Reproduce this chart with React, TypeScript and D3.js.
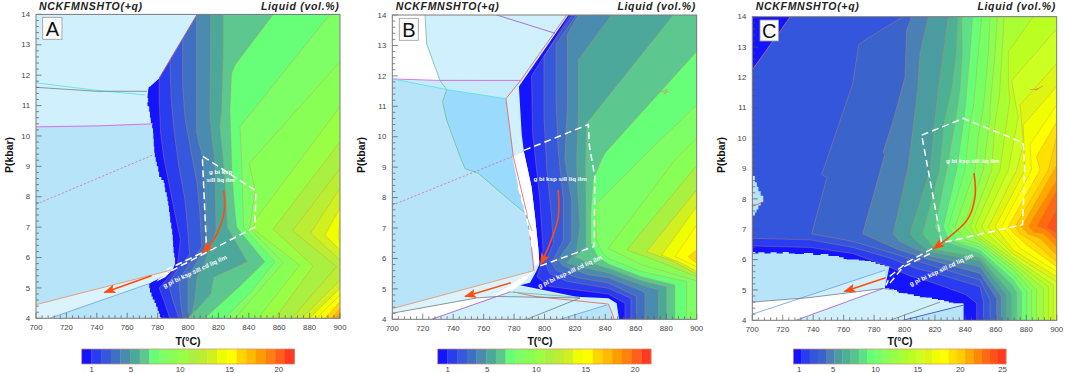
import React from "react";
import * as d3 from "d3";

type Pt = [number, number];
type Contour = [number, Pt[]];
type Region = [string, Pt[]];
type Path = [string, Pt[]];

const tempTicks = [700, 720, 740, 760, 780, 800, 820, 840, 860, 880, 900];
const pressTicks = [4, 5, 6, 7, 8, 9, 10, 11, 12, 13, 14];
const titleLeft = "NCKFMNSHTO(+q)";
const titleRight = "Liquid (vol.%)";

const palette22 = ["#1414ff", "#2a3cf0", "#3558dd", "#3f70c4", "#4a8cb0", "#4da89c", "#5cc890", "#66ff77", "#7fff66", "#88ff55", "#99ff44", "#aaf040", "#bbee33", "#d0f020", "#eeff00", "#ffff00", "#ffd500", "#ffbb00", "#ff9d00", "#ff7f10", "#ff5f18", "#ff3a20"];
const palette26 = ["#1414ff", "#2a3cf0", "#3356dd", "#3a64cc", "#4a80b5", "#4a9ca0", "#4db094", "#55c58c", "#5ee08a", "#66ff77", "#77ff66", "#88ff55", "#99ff44", "#aaff33", "#bbff22", "#ccff22", "#ddf510", "#f0ff00", "#ffff00", "#ffe000", "#ffcc00", "#ffa800", "#ff8800", "#ff6a10", "#ff5218", "#ff3a20"];
const barTicksAB = [1, 5, 10, 15, 20];
const barTicksC = [1, 5, 10, 15, 20, 25];

const contoursA: Contour[] = [
  [1, [[806, 14], [781, 11.9], [781, 11.2], [782, 10.1], [784, 9.3], [788, 8.3], [792, 7.3], [795, 6.6], [793, 5.7], [781, 5], [784, 4.6], [788, 4]]],
  [2, [[806, 14], [788, 12.55], [789, 11.2], [791, 10.1], [794, 9], [798, 7.9], [800, 6.8], [801, 6.1], [793, 5.6], [787, 5.15], [790, 4.6], [794, 4]]],
  [3, [[806, 14], [796.5, 13.2], [796.5, 11.7], [798, 10.6], [802, 9.5], [806, 8.45], [808, 7.35], [809, 6.35], [801, 5.8], [794, 5.25], [795, 4.6], [796.5, 4]]],
  [4, [[805.7, 14], [805.7, 10.1], [810, 9.2], [811, 8], [812, 6.9], [811, 6.3], [800, 5.35], [800, 4]]],
  [5, [[814.9, 14], [814.5, 10.63], [815.6, 9.97], [817.7, 9.2], [818, 8], [818.5, 6.9], [810, 5.7], [806, 5.35], [804.5, 4.6], [802, 4]]],
  [6, [[823.2, 14], [823.2, 12.71], [822.1, 10.85], [821, 10.3], [823.2, 9.2], [825, 8], [826, 7], [839, 5.86], [817, 5.35], [815, 4.8], [806, 4.3], [800, 4]]],
  [7, [[856.1, 14], [830.9, 12.33], [828.7, 12.06], [827.6, 10.85], [828.7, 9.2], [830, 8], [832, 7], [850.6, 5.86], [834, 5.05], [811, 4]]],
  [8, [[893.4, 14], [834.2, 10.3], [835.3, 9.2], [836, 8], [836.5, 7], [857.2, 5.86], [842, 4.9], [824.3, 4]]],
  [9, [[900, 12.44], [840.3, 9.1], [844, 8.22], [841.8, 7.34], [840.5, 6.95], [862.7, 5.83], [830.9, 4]]],
  [10, [[900, 10.96], [844.5, 7.25], [842.9, 6.93], [873.6, 5.75], [846.2, 4]]],
  [11, [[900, 9.81], [856, 6.93], [882.4, 5.72], [857.2, 4]]],
  [12, [[900, 8.93], [868.8, 6.88], [897.8, 5.7], [868.2, 4]]],
  [13, [[900, 8.28], [880.6, 6.8], [900, 5.92]]],
  [13, [[900, 5.26], [874.7, 4]]],
  [14, [[900, 7.62], [890, 6.74], [900, 6.25]]],
  [14, [[900, 4.99], [879.8, 4]]],
  [15, [[900, 7.18], [898.9, 6.69], [900, 6.5]]],
  [15, [[900, 4.77], [884.6, 4]]],
  [16, [[900, 4.55], [890, 4]]],
  [17, [[900, 4.33], [894.5, 4]]],
  [18, [[900, 4.18], [896.7, 4]]],
  [19, [[900, 4.08], [898.9, 4]]],
];

const contoursB: Contour[] = [
  [1, [[816.8, 14], [791.5, 12], [792.2, 10.1], [797, 7.9], [799, 6.3], [797.5, 5.75], [795, 5.4], [803, 5.08], [841.9, 4.83], [852.9, 4.53], [852.9, 4]]],
  [2, [[818.5, 14], [799.7, 12.65], [799.7, 10.65], [801.4, 9], [804.7, 7.35], [805.8, 6.5], [800.3, 5.85], [803.6, 5.5], [814.6, 5.25], [841.9, 5.02], [856.8, 4.69], [856.8, 4]]],
  [3, [[821, 14], [807.6, 13.05], [807.6, 11.2], [809, 9.55], [812.4, 7.9], [812.4, 6.6], [804.7, 5.85], [808, 5.6], [823.3, 5.35], [841.9, 5.2], [860.5, 4.75], [860.5, 4]]],
  [4, [[822.2, 14], [815, 13.35], [815, 10.88], [813.4, 9.24], [817.9, 7.9], [817.9, 6.6], [809, 5.95], [812.4, 5.75], [830, 5.45], [841.9, 5.37], [863.8, 4.94], [866, 4.86], [866, 4]]],
  [5, [[844.1, 14], [822.2, 12.52], [822.2, 10.66], [821.1, 9.24], [821.6, 8.45], [823.3, 7.05], [821, 6.2], [814.6, 5.85], [826, 5.7], [841.9, 5.53], [863.8, 5.13], [874.8, 4.96], [874.8, 4]]],
  [6, [[884.6, 14], [827.7, 10.44], [827, 9.24], [827.3, 7.35], [827.3, 6.4], [820, 6.05], [830, 5.85], [841.9, 5.68], [863.8, 5.27], [880.2, 5.07], [880.2, 4]]],
  [7, [[900, 12.8], [839.7, 9.46], [837.5, 9.24], [832, 8.6], [830.5, 7.5], [830.5, 6.5], [835, 6.05], [841.9, 5.82], [863.8, 5.4], [885.7, 5.13], [885.7, 4]]],
  [8, [[900, 11.04], [864.9, 9.35], [833.6, 7.76], [834, 6.6], [838, 6.2], [841.9, 6], [863.8, 5.57], [893.4, 5.24], [893.4, 4]]],
  [9, [[900, 9.95], [885.7, 9.24], [841.9, 6.33], [863.8, 5.79], [900, 5.27]]],
  [11, [[900, 9.05], [854, 6.28], [875, 5.9], [900, 5.4]]],
  [13, [[900, 8.25], [867, 6.22], [885, 5.9], [900, 5.49]]],
  [14, [[900, 7.7], [877, 6.11], [890, 5.85], [900, 5.57]]],
  [15, [[900, 7.1], [885.7, 6.06], [893, 5.9], [900, 5.73]]],
  [16, [[900, 6.28], [894.5, 6.06], [900, 5.84]]],
];

const contoursC: Contour[] = [
  [1, [[725, 14], [700, 12.25], [700, 6.45], [738, 6.4], [766, 6.2], [788, 5.8], [804, 5.45], [816.8, 5.27], [840, 4.85], [847.4, 4.56], [847.4, 4]]],
  [2, [[725, 14], [700, 12.25], [700, 6.7], [738, 6.65], [766, 6.4], [790.5, 6.05], [808, 5.7], [816.8, 5.6], [849.6, 5.11], [851.8, 4.61], [851.8, 4]]],
  [3, [[799.2, 14], [783.9, 13.54], [770, 13.1], [766, 11.8], [745.6, 8.8], [749, 8.7], [739, 6.85], [766, 6.6], [792.7, 6.2], [816.8, 5.82], [849.6, 5.33], [856.2, 4.67], [856.2, 4]]],
  [4, [[804.7, 14], [801.4, 13.56], [800.3, 12], [792.7, 10.6], [786, 9.55], [787, 9.45], [772.5, 6.85], [795, 6.35], [816.8, 5.99], [849.6, 5.55], [860.6, 4.72], [860.6, 4]]],
  [5, [[815.7, 14], [810.2, 12.8], [808.7, 11.6], [805.8, 10.4], [802.5, 9.06], [792.7, 6.85], [797, 6.6], [816.8, 6.12], [849.6, 5.77], [863.8, 4.78], [863.8, 4]]],
  [6, [[828.8, 14], [825.5, 12.8], [822.2, 11.6], [820, 10.6], [816.8, 8.95], [803.6, 6.85], [808, 6.6], [816.8, 6.26], [849.6, 5.96], [867.1, 4.83], [867.1, 4]]],
  [7, [[835, 14], [834, 12.8], [831, 11.6], [826, 10.5], [823, 8.95], [812, 6.85], [816, 6.6], [820, 6.33], [849.6, 6.07], [870.4, 4.87], [870.4, 4]]],
  [8, [[837.6, 14], [838, 12.8], [836.5, 11.6], [833.2, 10.5], [827.7, 8.95], [820, 7.08], [825, 6.6], [849.6, 6.2], [871.5, 5.11], [873.7, 4.89], [873.7, 4]]],
  [9, [[844.8, 14], [843, 12.8], [840.4, 11.25], [838.7, 10.5], [834.3, 8.95], [825.5, 7.08], [829, 6.65], [849.6, 6.31], [871.5, 5.33], [877, 4.91], [877, 4]]],
  [10, [[850.7, 14], [848.5, 12.8], [845.2, 11], [843, 10.5], [839.7, 8.95], [828.8, 7.08], [835, 6.6], [849.6, 6.42], [871.5, 5.49], [880.3, 4.94], [880.3, 4]]],
  [11, [[856.2, 14], [855.1, 12.8], [851.8, 11], [848.5, 10.05], [846.3, 8.95], [833.2, 7.08], [840, 6.65], [849.6, 6.51], [871.5, 5.66], [883.5, 4.98], [883.5, 4]]],
  [12, [[861, 14], [859.5, 12.8], [856.2, 11], [856.2, 10.7], [851.8, 8.95], [838.7, 7.08], [846, 6.72], [849.6, 6.6], [871.5, 5.77], [886.8, 5], [886.8, 4]]],
  [13, [[865.4, 14], [864.5, 13.1], [862.3, 11.35], [859.5, 10.5], [857.3, 8.95], [843, 7.08], [846, 6.82], [849.6, 6.69], [871.5, 5.88], [891.2, 5.05], [891.2, 4]]],
  [14, [[884.6, 14], [868.2, 12.85], [868.2, 11.8], [869.3, 11.3], [862.7, 8.95], [846.3, 7.08], [849.6, 6.78], [871.5, 5.99], [894.5, 5.11], [894.5, 4]]],
  [15, [[900, 13.6], [870.4, 11.9], [872.6, 11.25], [874.8, 10.7], [868.2, 8.95], [850.7, 7.08], [854, 6.85], [871.5, 6.07], [897.8, 5.16], [897.8, 4]]],
  [16, [[900, 12.46], [876, 11.1], [878.1, 9.8], [873.7, 8.95], [855.1, 7.08], [858, 6.85], [871.5, 6.18], [900, 5.27]]],
  [17, [[900, 11.7], [878, 10.43], [879.2, 8.95], [859.5, 7.08], [863, 6.85], [871.5, 6.31], [900, 5.44]]],
  [18, [[900, 11.1], [882.5, 9.8], [883.5, 8.95], [863.8, 7.08], [868, 6.85], [875.9, 6.37], [900, 5.6]]],
  [19, [[900, 10.54], [886.8, 9.4], [889, 8.95], [868.2, 7.08], [872, 6.85], [880.3, 6.48], [900, 5.77]]],
  [20, [[900, 10.05], [894.5, 8.95], [872.6, 7.08], [876, 6.85], [884.6, 6.59], [900, 5.93]]],
  [21, [[900, 9.1], [877, 7.08], [881, 6.85], [889, 6.7], [900, 6.15]]],
  [22, [[900, 8.62], [881.4, 7.1], [885, 6.9], [891.2, 6.86], [900, 6.42]]],
  [23, [[900, 8.29], [886.8, 7.1], [893.4, 6.97], [900, 6.64]]],
  [24, [[900, 7.69], [893, 7.05], [900, 6.86]]],
];

const edgeA: Pt[] = [[775, 11.62], [774, 11.55], [773.5, 11.42], [773, 11.25], [773.8, 11.1], [773.2, 10.98], [774.5, 10.8], [775, 10.6], [775.5, 10.42], [776.4, 10.25], [777, 10.1], [777.2, 9.9], [777.5, 9.65], [777.8, 9.45], [778.2, 9.3], [778.8, 9.15], [779.5, 9], [780.4, 8.82], [781, 8.65], [782.5, 8.55], [784, 8.45], [784.6, 8.3], [785, 8.15], [786, 8], [786.5, 7.85], [787, 7.7], [787.5, 7.5], [788, 7.35], [788.3, 7.15], [789, 6.95], [789.6, 6.75], [790, 6.55], [790.2, 6.35], [790.5, 6.15], [791, 6], [791.5, 5.8]];
const edgeALow: Pt[] = [[774, 5.15], [774.5, 5], [775, 4.85], [776, 4.72], [776.8, 4.62], [778, 4.5], [779, 4.38], [780, 4.25], [780.8, 4.15], [781.5, 4.05]];
const edgeC1: Pt[] = [[700, 6.25], [702, 6.2], [704, 6.24], [708, 6.2], [712, 6.24], [716, 6.2], [720, 6.25], [724, 6.2], [728, 6.18], [734, 6.22], [740, 6.15], [745, 6.18], [750, 6.12], [754, 6.12], [757, 6.08], [760, 6.02], [762, 6], [766, 6], [770, 5.97], [774, 5.95], [778, 5.92], [781, 5.86], [784, 5.82], [787, 5.78], [790, 5.75]];
const edgeC2: Pt[] = [[787, 5.05], [790, 5.02], [793, 5], [795, 4.94], [796, 4.9], [799, 4.88], [802, 4.85], [806, 4.8], [810, 4.75], [814, 4.74], [818, 4.7], [822, 4.67], [826, 4.62], [829, 4.58], [832, 4.55], [835, 4.55], [838.7, 4.5]];
const notchC: Pt[] = [[700, 8.75], [701.7, 8.55], [703, 8.4], [704, 8.25], [705.5, 8.1], [707.2, 7.9], [705.5, 7.78], [704, 7.65], [702.8, 7.55], [701.7, 7.45], [700, 7.35]];
const blipsB: Pt[] = [[877, 11.47], [880.5, 11.55], [878.5, 11.42], [882, 11.5]];
const blipsC: Pt[] = [[882.5, 11.6], [888, 11.62], [886, 11.58], [891, 11.72]];

function stairs(pts: Pt[]): Pt[] {
  return pts.flatMap((p, i) => (i === 0 ? [p] : [[p[0], pts[i - 1][1]] as Pt, p]));
}

const regionsA: Region[] = [
  ["deep", [[700, 14], [806, 14], [781, 11.9], ...stairs(edgeA), [790, 5.6], [781, 5.3], ...stairs(edgeALow), [782.5, 4], [700, 4]]],
  ["pale", [[700, 14], [806, 14], [781, 11.9], [774, 11.6], [773, 11.1], [775.5, 10.42], [777, 10.4], [700, 10.3]]],
  ["mist", [[700, 4.45], [790, 5.6], [775, 5.15], [709, 4], [700, 4]]],
  ["white", [[790, 5.6], [781, 5.3], [779, 5.2], [785, 5.35]]],
];
const pathsA: Path[] = [
  ["cyan", [[700, 11.75], [740, 11.5], [772, 11.35]]],
  ["grey", [[700, 11.6], [740, 11.47], [773, 11.47]]],
  ["magenta", [[700, 10.3], [740, 10.33], [777, 10.4]]],
  ["pinkDash", [[700, 7.75], [778, 9.4]]],
  ["orange", [[700, 4.45], [790, 5.6]]],
  ["skyblue", [[709, 4], [775, 5.15]]],
  ["purpleEdge", [[806, 14], [781, 11.9]]],
];
const fieldA: Pt[][] = [
  [[812, 6.47], [809.4, 9.34], [844.7, 8.2], [844, 7], [781.6, 5.37]],
  [[809, 6.15], [786, 5.6]],
];
const arrowsA: Pt[][] = [
  [[823.5, 8.2], [824, 7.6], [821, 7], [817, 6.6], [809.5, 6.15]],
  [[776, 5.4], [745, 4.85]],
];
const labelsA: [string, number, number, number][] = [
  ["g bi ksp", 821.5, 8.8, 0],
  ["sill liq ilm", 821.5, 8.55, 0],
  ["g pl bi ksp sill cd liq ilm", 804.6, 5.53, -25],
];

const regionsB: Region[] = [
  ["pale", [[700, 14], [815.7, 14], [783.2, 11.65], [785, 10.1], [786.5, 9.5], [791.5, 8.35], [793.8, 7.35], [796, 6.3], [796.6, 5.8], [794.9, 5.6], [790.5, 5.2], [784, 5.12], [821, 4.74], [842, 4.69], [847.4, 4.53], [849, 4], [700, 4]]],
  ["deep", [[700, 11.9], [784.3, 11.85], [774.7, 11.25], [779.5, 9.35], [788.3, 7.5], [791.6, 6.3], [793, 5.6], [700, 4.35]]],
  ["soft", [[700, 11.9], [784.3, 11.85], [774.7, 11.25], [735.7, 11.55]]],
  ["white", [[700, 14], [721.5, 14], [722.6, 13.05], [731.3, 11.85], [700, 11.9]]],
  ["strong", [[735.7, 11.55], [774.7, 11.25], [779.5, 9.35], [788.3, 7.5], [787.2, 7.5], [775, 8], [756.5, 8.8], [747.8, 8.95], [744.5, 9.35], [735.7, 10.55], [733, 11.15]]],
  ["white", [[778.9, 9.35], [786.5, 9.5], [791.5, 8.35], [793.8, 7.35], [796, 6.3], [796.6, 5.85], [793.8, 5.75], [792.2, 6.3], [788.3, 7.35], [782.8, 8.35]]],
  ["mist", [[700, 4.35], [793, 5.6], [785, 5.2], [777.3, 4.9], [766.4, 4.72], [755.4, 4.7], [700, 4.2]]],
  ["white", [[793, 5.6], [788, 5.3], [777.3, 4.9], [766.4, 4.72], [772, 4.95]]],
  ["white", [[700, 4.2], [755.4, 4.7], [766.4, 4.72], [725.8, 4], [700, 4]]],
  ["soft", [[777.3, 4.9], [784, 5.05], [821, 4.72], [842, 4.5], [823.3, 4.7], [768.6, 4.75]]],
  ["deep", [[810.2, 4], [840.9, 4.47], [842, 4.5], [845.2, 4]]],
];
const pathsB: Path[] = [
  ["red", [[814.6, 14], [784.3, 11.85], [774.7, 11.25], [779.5, 9.35], [788.3, 7.5], [791.6, 6.3], [793, 5.6]]],
  ["red", [[779.5, 4.9], [793.8, 4.75], [842, 4.5], [845.2, 4.1], [845.7, 4]]],
  ["green", [[721.5, 14], [722.6, 13.05], [731.3, 11.85], [735.7, 11.55], [733, 11.15], [735.7, 10.55], [744.5, 9.35], [747.8, 8.95], [756.5, 8.8], [775, 8], [787.2, 7.5], [792, 6.9]]],
  ["green", [[776.9, 4.9], [823, 4.72]]],
  ["magenta", [[700, 11.9], [731, 11.85], [784.3, 11.85]]],
  ["cyan", [[700, 11.9], [735.7, 11.55], [774.7, 11.25]]],
  ["purple", [[768.6, 14], [806.9, 13.4]]],
  ["pinkDash", [[700, 7.75], [778.9, 9.35]]],
  ["orange", [[700, 4.35], [793, 5.6]]],
  ["grey", [[700, 4.2], [755.4, 4.7], [768.6, 4.75], [823.3, 4.7]]],
  ["purple", [[725.8, 4], [777.3, 4.9]]],
  ["grey", [[788.3, 4], [823.3, 4.7]]],
  ["skyblue", [[810.2, 4], [840.9, 4.47]]],
  ["tan", blipsB],
];
const fieldB: Pt[][] = [
  [[786.5, 9.55], [828.8, 10.4], [829.5, 9.7], [833, 8.7], [832.7, 6.4], [797, 5.75]],
  [[782.8, 8.35], [788.3, 7.35], [792.2, 6.3]],
];
const arrowsB: Pt[][] = [
  [[809, 8.25], [809, 7.35], [803.6, 6.5], [797.5, 5.8]],
  [[777.8, 5.2], [747.8, 4.75]],
];
const labelsB: [string, number, number, number][] = [
  ["g bi ksp sill liq ilm", 810.2, 8.6, 0],
  ["g pl bi ksp sill cd liq ilm", 816.8, 5.55, -25],
];

const regionsC: Region[] = [
  ["deep", [...stairs(edgeC1), [787.2, 5.1], ...stairs(edgeC2), [838.7, 4], [700, 4]]],
  ["pale", [[700, 4.2], [787.2, 5.65], [787.2, 5.05], [728.7, 4], [700, 4]]],
  ["white", [[700, 4.6], [737.9, 4.75], [786, 5.05], [728.7, 4], [700, 4]]],
  ["pale", [[728.7, 4], [786, 5.05], ...stairs(edgeC2), [799, 4]]],
  ["deep", [[799, 4], [838.7, 4.5], [838.7, 4]]],
  ["deep", stairs(notchC)],
];
const pathsC: Path[] = [
  ["skyblue", [[700, 4.2], [787.2, 5.65]]],
  ["grey", [[700, 4.6], [737.9, 4.75], [786, 5.05], [792.7, 5]]],
  ["purple", [[728.7, 4], [786, 5.05]]],
  ["grey", [[790.5, 4], [823.3, 4.6]]],
  ["navy", [[799, 4], [838.7, 4.5]]],
  ["red", [[700, 7.75], [707.2, 7.9]]],
  ["tan", blipsC],
];
const fieldC: Pt[][] = [
  [[811.3, 10.1], [838.7, 10.65], [878, 9.85], [879, 9.05], [877.6, 7.15], [824.4, 6.55], [811.3, 10.1]],
  [[824.4, 6.55], [817.9, 6.35], [801.4, 5.9], [790.5, 5.45], [787.8, 5.15]],
  [[816.8, 6.2], [799, 5.75], [790, 5.2]],
];
const arrowsC: Pt[][] = [
  [[845.7, 8.85], [846.3, 8.05], [841.1, 7.3], [818.9, 6.35]],
  [[787.6, 5.4], [760.5, 4.95]],
];
const labelsC: [string, number, number, number][] = [
  ["g bi ksp sill liq ilm", 844.8, 9.22, 0],
  ["g pl bi ksp sill cd liq ilm", 824.4, 5.65, -25],
];

const ZONE_FILL: Record<string, string> = { deep: "#b8e4fa", pale: "#d0f0fd", soft: "#c6ebfb", mist: "#dbf3fd", strong: "#9adafc", white: "#ffffff" };
const LINE_STYLE: Record<string, { stroke: string; dash?: string }> = {
  cyan: { stroke: "#4fe3ee" },
  grey: { stroke: "#6f7f80" },
  magenta: { stroke: "#e050e0" },
  pinkDash: { stroke: "#d86a90", dash: "2 2" },
  orange: { stroke: "#ea8f62" },
  skyblue: { stroke: "#6aa0e0" },
  purpleEdge: { stroke: "#8a3aa0" },
  red: { stroke: "#e85a55" },
  green: { stroke: "#70bf96" },
  purple: { stroke: "#a055c8" },
  navy: { stroke: "#3040c0" },
  tan: { stroke: "#c8985a" },
};

const panels = [
  { id: "A", left: 36, right: 340, top: 14.4, bottom: 318.3, contours: contoursA, regions: regionsA, paths: pathsA, field: fieldA, arrows: arrowsA, labels: labelsA, palette: palette22, barTicks: barTicksAB, barDomain: [0, 21.6], barL: 81.7, barR: 294.5, box: [42.7, 17.3, 19.3, 22], titleL: 39, titleR: 339.5, xLab: 188, pX: 10 },
  { id: "B", left: 392.3, right: 696.7, top: 15, bottom: 319.3, contours: contoursB, regions: regionsB, paths: pathsB, field: fieldB, arrows: arrowsB, labels: labelsB, palette: palette22, barTicks: barTicksAB, barDomain: [0, 21.6], barL: 437.7, barR: 651, box: [399.3, 18.3, 19, 22], titleL: 395.7, titleR: 696, xLab: 540, pX: 362 },
  { id: "C", left: 752.3, right: 1056.7, top: 16.7, bottom: 320.3, contours: contoursC, regions: regionsC, paths: pathsC, field: fieldC, arrows: arrowsC, labels: labelsC, palette: palette26, barTicks: barTicksC, barDomain: [0.3, 25.4], barL: 793.3, barR: 1006, box: [760, 20, 18.5, 21], titleL: 755.7, titleR: 1056, xLab: 900, pX: 722 },
];

const FONT = "'Liberation Sans', Arial, sans-serif";

function Panel({ p }: { p: (typeof panels)[number] }) {
  const x = d3.scaleLinear().domain([700, 900]).range([p.left, p.right]);
  const y = d3.scaleLinear().domain([4, 14]).range([p.bottom, p.top]);
  const line = d3.line<Pt>().x((d) => x(d[0])).y((d) => y(d[1]));
  const curve = d3.line<Pt>().x((d) => x(d[0])).y((d) => y(d[1])).curve(d3.curveCatmullRom);
  const closeIt = (pts: Pt[]): Pt[] => {
    const out = [...pts];
    if (pts[pts.length - 1][1] === 4) out.push([900, 4]);
    if (pts[0][1] === 14) out.push([900, 14]);
    return out;
  };
  const sorted = [...p.contours].sort((a, b) => a[0] - b[0]);
  const clip = `clip-${p.id}`;
  const n = p.palette.length;
  const bandX = d3.scaleBand<number>().domain(d3.range(n)).range([p.barL, p.barR]);
  const barTick = d3.scaleLinear().domain(p.barDomain).range([p.barL, p.barR]);
  const minorT = d3.range(700, 901, 4);
  const minorP = d3.range(4, 14.01, 0.2);
  return (
    <g>
      <defs>
        <clipPath id={clip}><rect x={p.left} y={p.top} width={p.right - p.left} height={p.bottom - p.top} /></clipPath>
      </defs>
      <g clipPath={`url(#${clip})`}>
        <rect x={p.left} y={p.top} width={p.right - p.left} height={p.bottom - p.top} fill={p.palette[0]} />
        {sorted.map(([lev, pts], i) => (
          <path key={i} d={line(closeIt(pts)) + "Z"} fill={p.palette[lev]} />
        ))}
        {sorted.map(([, pts], i) => (
          <path key={i} d={line(pts) || ""} fill="none" stroke="#cf8f50" strokeOpacity={0.6} strokeWidth={0.6} />
        ))}
        {p.regions.map(([zone, pts], i) => (
          <path key={i} d={line(pts) + "Z"} fill={ZONE_FILL[zone]} />
        ))}
        {p.paths.map(([kind, pts], i) => (
          <path key={i} d={line(pts) || ""} fill="none" stroke={LINE_STYLE[kind].stroke} strokeWidth={0.8} strokeDasharray={LINE_STYLE[kind].dash} />
        ))}
      </g>
      {minorT.map((t) => (
        <line key={t} x1={x(t)} x2={x(t)} y1={p.bottom} y2={p.bottom - (t % 20 === 0 ? 5.5 : 3)} stroke="#555" strokeWidth={0.7} />
      ))}
      {minorP.map((v, i) => (
        <line key={i} x1={p.left} x2={p.left + (i % 5 === 0 ? 5.5 : 3)} y1={y(v)} y2={y(v)} stroke="#555" strokeWidth={0.7} />
      ))}
      <rect x={p.left} y={p.top} width={p.right - p.left} height={p.bottom - p.top} fill="none" stroke="#7d7d7d" strokeWidth={1} />
      {p.field.map((pts, i) => (
        <path key={i} d={line(pts) || ""} fill="none" stroke="#fff" strokeWidth={1.5} strokeDasharray="7 4" />
      ))}
      {p.arrows.map((pts, i) => (
        <path key={i} d={curve(pts) || ""} fill="none" stroke="#ff4d0d" strokeWidth={1.6} markerEnd="url(#head)" />
      ))}
      {p.labels.map(([t, a, b, r], i) => (
        <text key={i} transform={`translate(${x(a)},${y(b)}) rotate(${r})`} textAnchor="middle" dominantBaseline="middle" fontFamily={FONT} fontSize={6.2} fontWeight={700} fill="#fff">{t}</text>
      ))}
      <rect x={p.box[0]} y={p.box[1]} width={p.box[2]} height={p.box[3]} fill="#fbfbfb" stroke="#999" strokeWidth={0.8} />
      <text x={p.box[0] + p.box[2] / 2} y={p.box[1] + p.box[3] - 3.5} textAnchor="middle" fontFamily={FONT} fontSize={20} fill="#111">{p.id}</text>
      {tempTicks.map((t) => (
        <text key={t} x={x(t)} y={p.bottom + 12} textAnchor="middle" fontFamily={FONT} fontSize={7.8} fill="#444">{t}</text>
      ))}
      {pressTicks.map((v) => (
        <text key={v} x={p.left - 6} y={y(v) + 2.7} textAnchor="end" fontFamily={FONT} fontSize={7.8} fill="#444">{v}</text>
      ))}
      <text x={p.xLab} y={345} textAnchor="middle" fontFamily={FONT} fontSize={10.5} fontWeight={700} fill="#111">T(°C)</text>
      <text transform={`translate(${p.pX},155) rotate(-90)`} textAnchor="middle" dominantBaseline="middle" fontFamily={FONT} fontSize={10.5} fontWeight={700} fill="#111">P(kbar)</text>
      <text x={p.titleL} y={10} fontFamily={FONT} fontSize={10.5} fontWeight={700} fontStyle="italic" letterSpacing={0.7} fill="#222">{titleLeft}</text>
      <text x={p.titleR} y={10} textAnchor="end" fontFamily={FONT} fontSize={10.5} fontWeight={700} fontStyle="italic" letterSpacing={0.7} fill="#222">{titleRight}</text>
      {p.palette.map((c, i) => (
        <rect key={i} x={bandX(i)} y={349} width={bandX.bandwidth() + 0.3} height={15} fill={c} />
      ))}
      <rect x={p.barL} y={349} width={p.barR - p.barL} height={15} fill="none" stroke="#d08a70" strokeWidth={0.7} />
      {p.barTicks.map((v) => (
        <text key={v} x={barTick(v)} y={372} textAnchor="middle" fontFamily={FONT} fontSize={7.8} fill="#444">{v}</text>
      ))}
    </g>
  );
}

export default function App() {
  return (
    <svg width={1065} height={373} style={{ position: "absolute", left: 0, top: 0, background: "#fff" }}>
      <defs>
        <marker id="head" markerUnits="userSpaceOnUse" markerWidth={14} markerHeight={10} refX={11} refY={5} orient="auto">
          <path d="M0,0.5 L12,5 L0,9.5 L2.5,5 Z" fill="#ff4d0d" />
        </marker>
      </defs>
      {panels.map((p) => <Panel key={p.id} p={p} />)}
    </svg>
  );
}
